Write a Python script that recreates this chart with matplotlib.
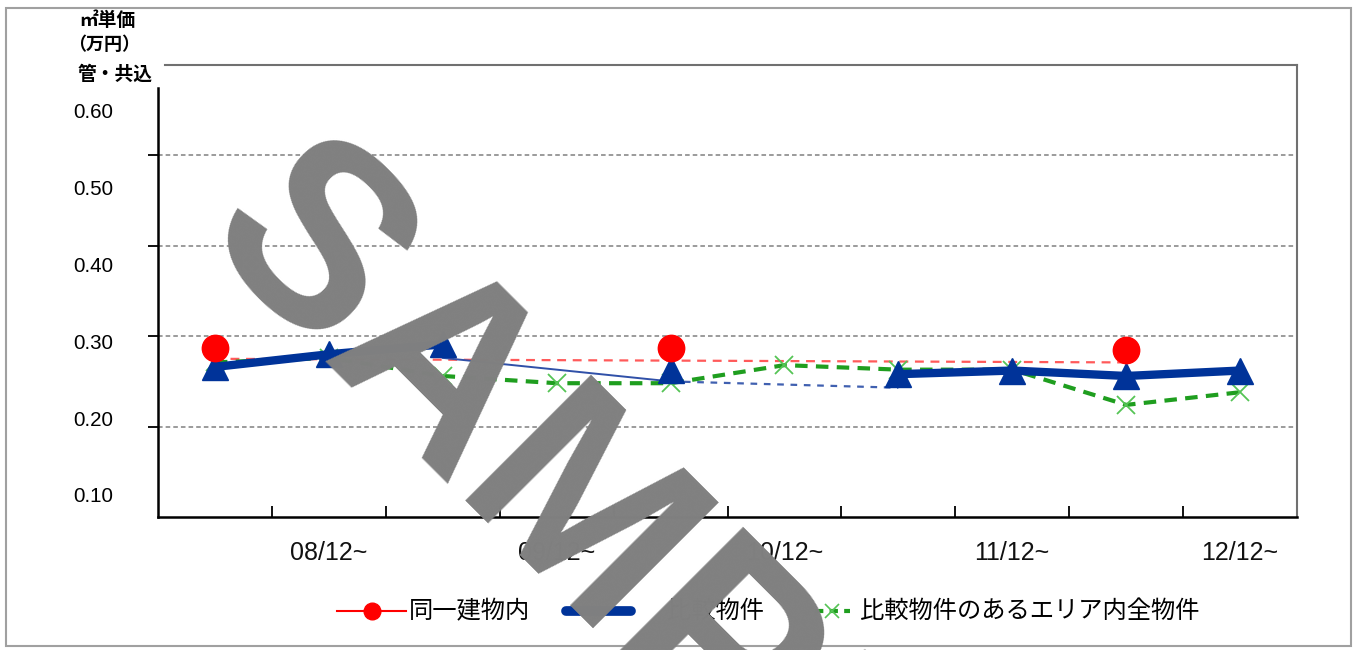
import matplotlib
matplotlib.use("Agg")
import matplotlib.pyplot as plt
import matplotlib.transforms as mtransforms
from matplotlib.lines import Line2D
from matplotlib.patches import Rectangle
import numpy as np

# ---------------- data ----------------
categories = ["08/06~", "08/12~", "09/06~", "09/12~", "10/06~",
              "10/12~", "11/06~", "11/12~", "12/06~", "12/12~"]
tick_labels = ["", "08/12~", "", "09/12~", "", "10/12~", "", "11/12~", "", "12/12~"]

# 同一建物内 (markers)
red_idx = [0, 4, 8]
red_vals = [0.287, 0.287, 0.285]
# 同一建物内 (dashed line)
red_line_idx = [0, 4, 8]
red_line_vals = [0.275, 0.273, 0.271]

# 比較物件 (markers / thick line), None = no value
blue_vals = [0.266, 0.280, 0.291, None, 0.263, None, 0.258, 0.262, 0.256, 0.262]
# 比較物件 thin connecting lines
blue_thin_idx = [2, 4]
blue_thin_vals = [0.276, 0.250]
blue_dash_idx = [4, 6]
blue_dash_vals = [0.250, 0.243]

# 比較物件のあるエリア内全物件
green_vals = [0.271, 0.276, 0.256, 0.248, 0.248, 0.268, 0.263, 0.263, 0.224, 0.238]

ytick_vals = [0.60, 0.50, 0.40, 0.30, 0.20, 0.10]
ytick_labels = ["0.60", "0.50", "0.40", "0.30", "0.20", "0.10"]
legend_labels = ["同一建物内", "比較物件", "比較物件のあるエリア内全物件"]

# ---------------- style ----------------
W, H = 1359, 650
plt.rcParams['font.family'] = ['Liberation Sans', 'Noto Sans CJK JP', 'DejaVu Sans']
JP = ['Noto Sans CJK JP', 'DejaVu Sans']
RED = '#ff0000'
RED_L = '#ff5a5a'
BLUE = '#003399'
GREEN = '#1f9e1f'
GREEN_M = '#55c455'
GRAY = '#808080'

fig = plt.figure(figsize=(W / 100, H / 100), dpi=100)
ax = fig.add_axes([158 / W, 1 - 517 / H, (1297 - 158) / W, (517 - 65) / H])

x = np.arange(len(categories))
ax.set_xlim(-0.5, len(categories) - 0.5)
ax.set_ylim(0.10, 0.60)

# grid lines
for g in [0.2, 0.3, 0.4, 0.5]:
    ax.axhline(g, color=GRAY, lw=1.1, ls=(0, (3, 2)), zorder=1)

# red dashed line
ax.plot(red_line_idx, red_line_vals, color=RED_L, lw=1.6, ls=(0, (4, 3)), zorder=2)

# blue thin solid and dashed
ax.plot(blue_thin_idx, blue_thin_vals, color='#3050a8', lw=1.4, zorder=2)
ax.plot(blue_dash_idx, blue_dash_vals, color='#4060b0', lw=1.6, ls=(0, (3, 3)), zorder=2)

# green dashed
ax.plot(x, green_vals, color=GREEN, lw=3.0, ls=(0, (3, 2)), zorder=3)
ax.plot(x, green_vals, ls='none', marker='x', ms=13, mew=1.3, color=GREEN_M, zorder=3)

# blue thick segments
bv = np.array([np.nan if v is None else v for v in blue_vals], dtype=float)
ax.plot(x, bv, color=BLUE, lw=6, solid_capstyle='round', zorder=4)
ax.plot(x, bv, ls='none', marker='^', ms=19, color=BLUE, zorder=5)

# red markers
ax.plot(red_idx, red_vals, ls='none', marker='o', ms=19, color=RED, zorder=6)

# spines
for s in ['left', 'bottom']:
    ax.spines[s].set_color('black')
    ax.spines[s].set_linewidth(1.8)
for s in ['top', 'right']:
    ax.spines[s].set_color('#707070')
    ax.spines[s].set_linewidth(1.5)
ax.spines['left'].set_bounds(0.10, 0.575)
ax.spines['top'].set_bounds(-0.44, len(categories) - 0.5)

# x ticks
ax.set_xticks(x)
ax.set_xticklabels(tick_labels, fontsize=18, color='#111111')
ax.tick_params(axis='x', which='major', length=0, pad=17)
ax.set_xticks(np.arange(0.5, len(categories), 1.0), minor=True)
ax.tick_params(axis='x', which='minor', direction='in', length=8, width=1.3, color='black')

# y ticks (marks only) and offset labels
ax.set_yticks([0.2, 0.3, 0.4, 0.5])
ax.set_yticklabels([])
ax.tick_params(axis='y', direction='out', length=7, width=1.3, color='black')
trans = mtransforms.blended_transform_factory(ax.transAxes, ax.transData)
for v, lab in zip(ytick_vals, ytick_labels):
    pos = 0.10 + (20 + (v - 0.10) * 768) / 904
    ax.text(-0.0395, pos, lab, transform=trans, ha='right', va='center',
            fontsize=14.8, color='black')

# y axis title
fig.text(107 / W, 1 - 20 / H, "㎡単価", family=JP, fontsize=13.5, weight='bold',
         ha='center', va='center')
fig.text(104 / W, 1 - 44 / H, "（万円）", family=JP, fontsize=13, weight='bold',
         ha='center', va='center')
fig.text(115 / W, 1 - 74 / H, "管・共込", family=JP, fontsize=13.5, weight='bold',
         ha='center', va='center')

# legend (manual)
ly = 1 - 611 / H
fig.add_artist(Line2D([337 / W, 406 / W], [ly, ly], color=RED, lw=1.5, zorder=4))
fig.add_artist(Line2D([372 / W], [ly], marker='o', ms=12, color=RED, zorder=4))
fig.text(409 / W, ly, legend_labels[0], family=JP, fontsize=17.5, ha='left', va='center')
fig.add_artist(Line2D([566 / W, 631 / W], [ly, ly], color=BLUE, lw=7,
                      solid_capstyle='round', zorder=4))
fig.text(667 / W, ly, legend_labels[1], family=JP, fontsize=17.5, ha='left', va='center')
fig.add_artist(Line2D([815 / W, 850 / W], [ly, ly], color=GREEN, lw=3,
                      ls=(0, (2, 1.5)), zorder=4))
fig.add_artist(Line2D([832 / W], [ly], marker='x', ms=10, mew=1.2, color=GREEN_M, zorder=4))
fig.text(860 / W, ly, legend_labels[2], family=JP, fontsize=17.5, ha='left', va='center')

# outer frame
fig.add_artist(Rectangle((6 / W, 1 - 646 / H), (1351 - 6) / W, (646 - 8) / H,
                         transform=fig.transFigure, fill=False, ec='#a0a0a0', lw=1.5))

# watermark
fig.text(624 / W, 1 - 574 / H, "SAMPLE", fontsize=186, color='#808080',
         family='Liberation Sans', weight='bold', rotation=-45, rotation_mode='anchor',
         ha='center', va='center', zorder=20)

fig.savefig("out.png", dpi=100)
